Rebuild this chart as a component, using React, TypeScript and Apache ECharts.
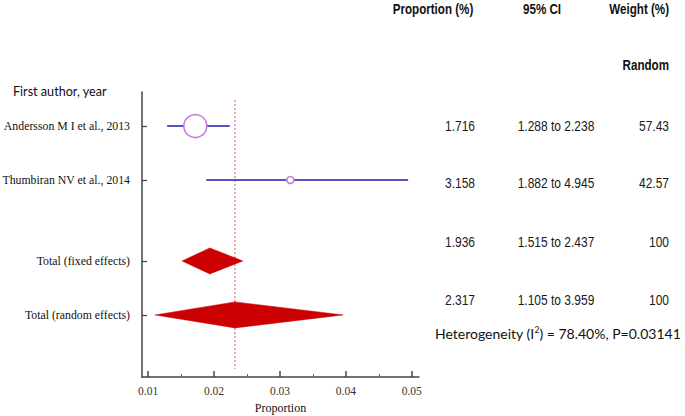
import React, { useEffect, useRef } from "react";
import * as echarts from "echarts";

// ---- data ----
const studyLabels = ["Andersson M I et al., 2013", "Thumbiran NV et al., 2014"];
const totalLabels = ["Total (fixed effects)", "Total (random effects)"];
const proportionPct = [1.716, 3.158, 1.936, 2.317];
const ciLowPct = [1.288, 1.882, 1.515, 1.105];
const ciHighPct = [2.238, 4.945, 2.437, 3.959];
const weightRandom = ["57.43", "42.57", "100", "100"];
const rowSlots = [1, 2, 3.5, 4.5];
const xTicks = [0.01, 0.02, 0.03, 0.04, 0.05];
const xMinorTicks = [0.015, 0.025, 0.035, 0.045];
const heterogeneityI2 = "78.40%";
const heterogeneityP = "0.03141";

const allLabels = [...studyLabels, ...totalLabels];

export default function App() {
  const ref = useRef<HTMLDivElement>(null);
  useEffect(() => {
    document.body.style.margin = "0";
    const chart = echarts.init(ref.current!, null, { renderer: "svg" });
    const pooledRandom = proportionPct[3] / 100;

    const serifFont = '"Liberation Serif", "Times New Roman", serif';
    const sansFont = '"Liberation Sans", Arial, sans-serif';
    const tableColor = "#1a1a1a";

    const textEl = (text: string, x: number, y: number, align: string, opts: any = {}) => ({
      type: "text",
      x,
      y,
      scaleX: 0.8,
      style: {
        text,
        x: 0,
        y: 0,
        textAlign: align,
        textVerticalAlign: "middle",
        fontFamily: sansFont,
        fontSize: 15,
        fill: tableColor,
        ...opts,
      },
    });

    const rowTextY = [126, 183, 242, 300];
    const head = { fontWeight: "bold", fontSize: 14.5, fill: "#111" };
    const graphics: any[] = [
      textEl("Proportion (%)", 433, 9, "center", head),
      textEl("95% CI", 542, 9, "center", head),
      textEl("Weight (%)", 669, 9, "right", head),
      textEl("Random", 669, 65, "right", head),
      {
        type: "text",
        x: 13,
        y: 91,
        style: {
          text: "First author, year",
          textAlign: "left",
          textVerticalAlign: "middle",
          fontFamily: "Lato, sans-serif",
          fontSize: 12.6,
          fill: "#111",
        },
      },
      {
        type: "text",
        x: 435,
        y: 333,
        style: {
          text: `Heterogeneity (I{sup|2}) = ${heterogeneityI2}, P=${heterogeneityP}`,
          textAlign: "left",
          textVerticalAlign: "middle",
          fontFamily: "Lato, sans-serif",
          fontSize: 14,
          fill: "#111",
          rich: {
            sup: { fontSize: 8.5, fontFamily: "Lato, sans-serif", fill: "#111", padding: [0, 0, 7, 0] },
          },
        },
      },
    ];
    proportionPct.forEach((p, i) => {
      graphics.push(textEl(p.toFixed(3), 475, rowTextY[i], "right"));
      graphics.push(
        textEl(`${ciLowPct[i].toFixed(3)} to ${ciHighPct[i].toFixed(3)}`, 556, rowTextY[i], "center")
      );
      graphics.push(textEl(weightRandom[i], 669, rowTextY[i], "right"));
    });

    const studyIdx = studyLabels.map((_, i) => i);
    const totalIdx = totalLabels.map((_, i) => i + studyLabels.length);

    const option: any = {
      animation: false,
      grid: { left: 142, right: 266, top: 92, bottom: 39, containLabel: false, outerBoundsMode: "none" },
      xAxis: [
        {
          type: "value",
          min: 0.00907,
          max: 0.0511,
          position: "bottom",
          axisLine: { show: true, lineStyle: { color: "#444", width: 1.5 } },
          axisTick: { show: true, inside: true, length: 6, customValues: xTicks, lineStyle: { color: "#444", width: 1.5 } },
          axisLabel: {
            show: true,
            customValues: xTicks,
            formatter: (v: number) => v.toFixed(2),
            fontFamily: serifFont,
            fontSize: 11.5,
            color: "#333",
            margin: 8,
          },
          splitLine: { show: false },
          name: "Proportion",
          nameLocation: "middle",
          nameGap: 24,
          nameTextStyle: { fontFamily: serifFont, fontSize: 12, color: "#111" },
        },
        {
          type: "value",
          min: 0.00907,
          max: 0.0511,
          position: "bottom",
          axisLine: { show: false },
          axisTick: { show: true, inside: true, length: 3, customValues: xMinorTicks, lineStyle: { color: "#666", width: 1 } },
          axisLabel: { show: false },
          splitLine: { show: false },
        },
      ],
      yAxis: {
        type: "value",
        inverse: true,
        min: 0.37,
        max: 5.65,
        axisLine: { show: true, lineStyle: { color: "#444", width: 1.5 } },
        axisTick: { show: true, inside: true, length: 5, customValues: rowSlots, lineStyle: { color: "#444", width: 1.2 } },
        axisLabel: {
          show: true,
          customValues: rowSlots,
          formatter: (v: number) => {
            const i = rowSlots.findIndex((r) => Math.abs(r - v) < 1e-6);
            return i >= 0 ? allLabels[i] : "";
          },
          fontFamily: serifFont,
          fontSize: 11.8,
          color: "#111",
          margin: 12,
        },
        splitLine: { show: false },
      },
      graphic: graphics,
      series: [
        {
          type: "line",
          data: [
            [pooledRandom, 0.52],
            [pooledRandom, 5.5],
          ],
          symbol: "none",
          lineStyle: { color: "#c05050", width: 1, type: [2, 2] },
          z: 1,
        },
        {
          type: "custom",
          data: studyIdx.map((i) => [ciLowPct[i] / 100, ciHighPct[i] / 100, rowSlots[i]]),
          encode: { x: [0, 1], y: 2 },
          renderItem: (_p: any, api: any) => {
            const a = api.coord([api.value(0), api.value(2)]);
            const b = api.coord([api.value(1), api.value(2)]);
            return {
              type: "line",
              shape: { x1: a[0], y1: a[1], x2: b[0], y2: b[1] },
              style: { stroke: "#5454c4", lineWidth: 2 },
            };
          },
          z: 2,
        },
        {
          type: "scatter",
          data: studyIdx.map((i) => ({
            value: [proportionPct[i] / 100, rowSlots[i]],
            symbolSize: i === 0 ? 23 : 7,
          })),
          symbol: "circle",
          itemStyle: { color: "#fff", borderColor: "#c678d8", borderWidth: 1.5, opacity: 1 },
          z: 3,
        },
        {
          type: "custom",
          data: totalIdx.map((i) => [ciLowPct[i] / 100, proportionPct[i] / 100, ciHighPct[i] / 100, rowSlots[i]]),
          encode: { x: [0, 1, 2], y: 3 },
          renderItem: (_p: any, api: any) => {
            const l = api.coord([api.value(0), api.value(3)]);
            const c = api.coord([api.value(1), api.value(3)]);
            const r = api.coord([api.value(2), api.value(3)]);
            const h = 13;
            return {
              type: "polygon",
              shape: { points: [l, [c[0], c[1] - h], r, [c[0], c[1] + h]] },
              style: { fill: "#cc0000", stroke: "#cc0000", lineWidth: 0.5 },
            };
          },
          z: 2,
        },
      ],
    };
    chart.setOption(option);
    return () => chart.dispose();
  }, []);
  return <div ref={ref} style={{ width: 685, height: 416 }} />;
}
